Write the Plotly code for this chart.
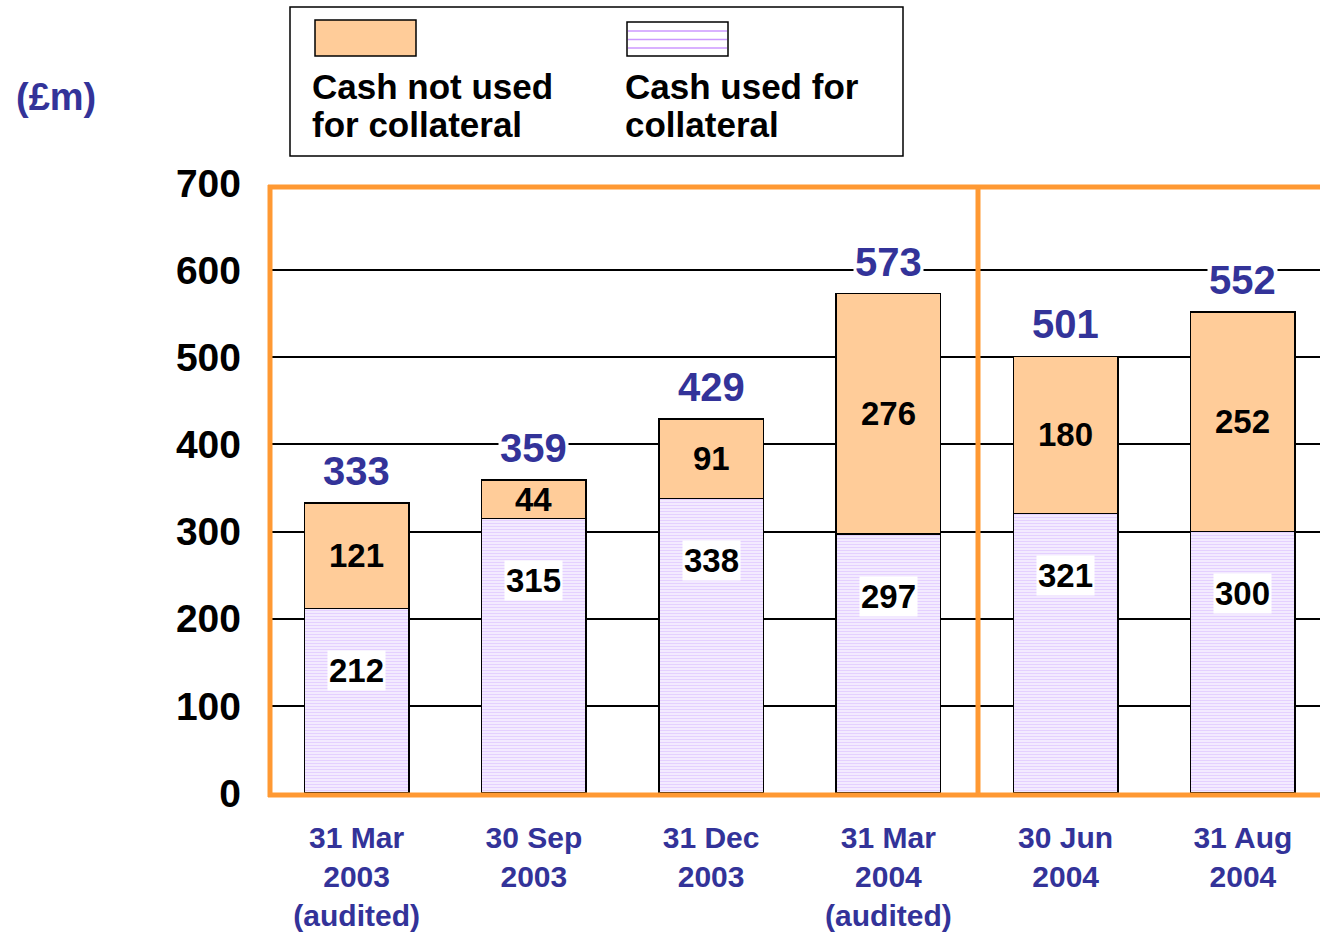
import plotly.graph_objects as go

# ---- data ----
categories = ["31 Mar<br>2003<br>(audited)", "30 Sep<br>2003", "31 Dec<br>2003",
              "31 Mar<br>2004<br>(audited)", "30 Jun<br>2004", "31 Aug<br>2004"]
cash_used = [212, 315, 338, 297, 321, 300]
cash_not_used = [121, 44, 91, 276, 180, 252]
totals = [333, 359, 429, 573, 501, 552]
y_ticks = [0, 100, 200, 300, 400, 500, 600, 700]
legend_labels = ["Cash not used", "for collateral", "Cash used for", "collateral"]

W, H = 1320, 938
L, R, T, B = 268, 0, 183, 145
PW, PH = W - L - R, H - T - B

def px_x(X):
    return (X - L) / PW

def px_y(Y):
    return (H - B - Y) / PH

FONT = "Arial, Liberation Sans, sans-serif"
BLUE = "#333399"
ORANGE = "#FF9933"
PEACH = "#FFCC99"

xs = list(range(len(categories)))

fig = go.Figure()
fig.add_trace(go.Bar(
    x=xs, y=cash_used, name="Cash used for collateral",
    marker=dict(color="white", line=dict(color="black", width=1.5),
                pattern=dict(shape="-", size=3, solidity=0.62,
                             fgcolor="#E4D0FF", bgcolor="white", fillmode="replace")),
))
fig.add_trace(go.Bar(
    x=xs, y=cash_not_used, name="Cash not used for collateral",
    marker=dict(color=PEACH, line=dict(color="black", width=1.5)),
))

annotations = []
for i in xs:
    annotations.append(dict(x=i, y=totals[i], xref="x", yref="y", text=f"<b>{totals[i]}</b>",
                            showarrow=False, xanchor="center", yanchor="bottom", yshift=8,
                            bgcolor="white", font=dict(family=FONT, size=40, color=BLUE)))
    annotations.append(dict(x=i, y=cash_used[i] + cash_not_used[i] / 2, xref="x", yref="y",
                            text=f"<b>{cash_not_used[i]}</b>", showarrow=False,
                            xanchor="center", yanchor="middle",
                            font=dict(family=FONT, size=33, color="black")))
    annotations.append(dict(x=i, y=cash_used[i], xref="x", yref="y", text=f"<b>{cash_used[i]}</b>",
                            showarrow=False, xanchor="center", yanchor="middle", yshift=-62,
                            bgcolor="white", font=dict(family=FONT, size=33, color="black")))

# unit label
annotations.append(dict(x=px_x(56), y=px_y(97), xref="paper", yref="paper", text="<b>(£m)</b>",
                        showarrow=False, xanchor="center", yanchor="middle",
                        font=dict(family=FONT, size=38, color=BLUE)))
# legend texts
for txt, X, Y in [(legend_labels[0], 310, 87), (legend_labels[1], 310, 124),
                  (legend_labels[2], 623, 87), (legend_labels[3], 623, 124)]:
    annotations.append(dict(x=px_x(X), y=px_y(Y), xref="paper", yref="paper", text=f"<b>{txt}</b>",
                            showarrow=False, xanchor="left", yanchor="middle",
                            font=dict(family=FONT, size=35, color="black")))

shapes = []
def pline(x0, y0, x1, y1, color, width, layer="above"):
    shapes.append(dict(type="line", xref="paper", yref="paper", x0=px_x(x0), y0=px_y(y0),
                       x1=px_x(x1), y1=px_y(y1), line=dict(color=color, width=width), layer=layer))

def prect(x0, y0, x1, y1, fill, lc, lw):
    shapes.append(dict(type="rect", xref="paper", yref="paper", x0=px_x(x0), y0=px_y(y0),
                       x1=px_x(x1), y1=px_y(y1), fillcolor=fill, line=dict(color=lc, width=lw),
                       layer="above"))

# orange frame
pline(268, 187, 1325, 187, ORANGE, 5)
pline(268, 795, 1325, 795, ORANGE, 5)
pline(270, 185, 270, 797, ORANGE, 5)
pline(978, 185, 978, 797, ORANGE, 5)

# legend box
prect(290, 7, 903, 156, "white", "black", 1.5)
prect(315, 20, 416, 56, PEACH, "black", 1.5)
prect(627, 22, 728, 56, "white", "black", 1.5)
for yy in [31, 39.5, 48]:
    pline(628, yy, 727, yy, "#CC99FF", 1.5)

fig.update_layout(
    width=W, height=H,
    margin=dict(l=L, r=R, t=T, b=B),
    paper_bgcolor="white", plot_bgcolor="white",
    barmode="stack", bargap=0.41,
    showlegend=False,
    annotations=annotations,
    shapes=shapes,
    xaxis=dict(range=[-0.5, 5.435], tickmode="array", tickvals=xs, ticktext=[f"<b>{c}</b>" for c in categories],
               showgrid=False, zeroline=False, showline=False, ticks="", automargin=False,
               tickfont=dict(family=FONT, size=30, color=BLUE), ticklabelstandoff=24),
    yaxis=dict(range=[0, 700], tickmode="array", tickvals=y_ticks,
               ticktext=[f"<b>{v}</b>" for v in y_ticks], automargin=False,
               showgrid=True, gridcolor="black", gridwidth=1.5, zeroline=False, showline=False,
               ticks="", tickfont=dict(family=FONT, size=39, color="black"), ticklabelstandoff=26),
)

fig.write_html("out.html", config={"displayModeBar": False},
               post_script="document.body.style.margin='0';")
